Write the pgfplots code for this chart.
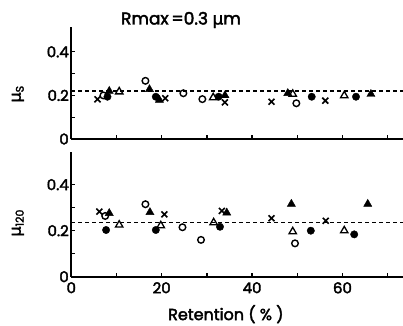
\documentclass[border=0pt]{standalone}
\usepackage{pgfplots}
\pgfplotsset{compat=1.18}
\usepackage{fontspec}
\setmainfont{Poppins}[UprightFeatures={FakeBold=2.5}]
\newfontfamily\greek{DejaVu Sans}[UprightFeatures={FakeBold=1.5}]

% friction coefficients versus retention, two panels
\pgfplotsset{
  panel/.style={
    scale only axis,
    anchor=south west,
    width=331.7pt,
    xmin=0, xmax=73.4,
    ymin=0,
    axis lines=left,
    axis line style={-, line width=1.7pt},
    tick align=inside,
    major tick length=4pt,
    tick style={black, line width=1.3pt},
    xtick={0,10,...,70},
    ytick={0,0.1,0.2,0.3,0.4},
    yticklabels={0,,0.2,,0.4},
    /pgf/number format/assume math mode=true,
    tick label style={font=\fontsize{15}{15}\selectfont},
    label style={font=\fontsize{16}{16}\selectfont},
    yticklabel style={xshift=1pt},
    clip=false,
  },
  fc/.style={only marks, mark=*, mark size=3.7pt, mark options={fill=black, draw=black}},
  oc/.style={only marks, mark=o, mark size=3.3pt, mark options={line width=1.4pt, draw=black}},
  ft/.style={only marks, mark=triangle*, mark size=4.7pt, mark options={fill=black, draw=black}},
  ot/.style={only marks, mark=triangle, mark size=4.3pt, mark options={line width=1.3pt, draw=black}},
  xx/.style={only marks, mark=x, mark size=4.2pt, mark options={line width=1.6pt, draw=black}},
  avg/.style={black, line width=1.5pt, dash pattern=on 4pt off 3pt},
}

\begin{document}
\begin{tikzpicture}[x=1pt, y=1pt]
\useasboundingbox (0,0) rectangle (403,325);

% static friction
\begin{axis}[panel,
  at={(71.3pt,186pt)},
  height=112pt, ymax=0.514,
  xticklabels={},
  ylabel={{\greek μ}\raisebox{-0.35ex}{\fontsize{11}{11}\selectfont S}},
  ylabel style={at={(axis description cs:-0.161,0.40)}, anchor=center},
]
\addplot[avg] coordinates {(0,0.22) (73.4,0.22)};
\addplot[oc] coordinates {(7.1,0.200) (16.4,0.267) (24.8,0.210) (29.0,0.183) (49.8,0.164)};
\addplot[fc] coordinates {(8.0,0.194) (18.7,0.194) (32.6,0.194) (53.2,0.194) (63.0,0.194)};
\addplot[ft] coordinates {(8.4,0.220) (17.3,0.228) (19.5,0.179) (34.0,0.200) (47.9,0.210) (66.3,0.206)};
\addplot[ot] coordinates {(10.6,0.217) (31.4,0.190) (49.0,0.206) (60.4,0.199)};
\addplot[xx] coordinates {(5.8,0.182) (20.8,0.187) (34.0,0.168) (44.3,0.171) (56.2,0.176)};
\end{axis}

% friction after 120 s
\begin{axis}[panel,
  at={(71.3pt,48.3pt)},
  height=124.7pt, ymax=0.542,
  xticklabels={0,,20,,40,,60,},
  xticklabel style={yshift=-2pt},
  ylabel={{\greek μ}\raisebox{-0.35ex}{\fontsize{11}{11}\selectfont 120}},
  ylabel style={at={(axis description cs:-0.161,0.43)}, anchor=center},
  xlabel={Retention ( \% )},
  xlabel style={at={(axis description cs:0.466,-0.30)}, anchor=center},
]
\addplot[avg] coordinates {(0,0.235) (73.4,0.235)};
\addplot[oc] coordinates {(7.5,0.264) (16.4,0.315) (24.6,0.215) (28.7,0.160) (49.5,0.145)};
\addplot[fc] coordinates {(7.7,0.203) (18.7,0.203) (32.9,0.217) (53.0,0.200) (62.6,0.184)};
\addplot[ft] coordinates {(8.4,0.276) (17.4,0.280) (34.4,0.278) (48.7,0.316) (65.6,0.316)};
\addplot[ot] coordinates {(10.6,0.225) (19.8,0.222) (31.5,0.235) (49.0,0.196) (60.4,0.200)};
\addplot[xx] coordinates {(6.2,0.283) (20.6,0.271) (33.3,0.286) (44.3,0.254) (56.3,0.243)};
\end{axis}

\node[font=\fontsize{17}{17}\selectfont] at (181,305) {Rmax\,=0.3 {\greek μ}m};
\end{tikzpicture}
\end{document}
